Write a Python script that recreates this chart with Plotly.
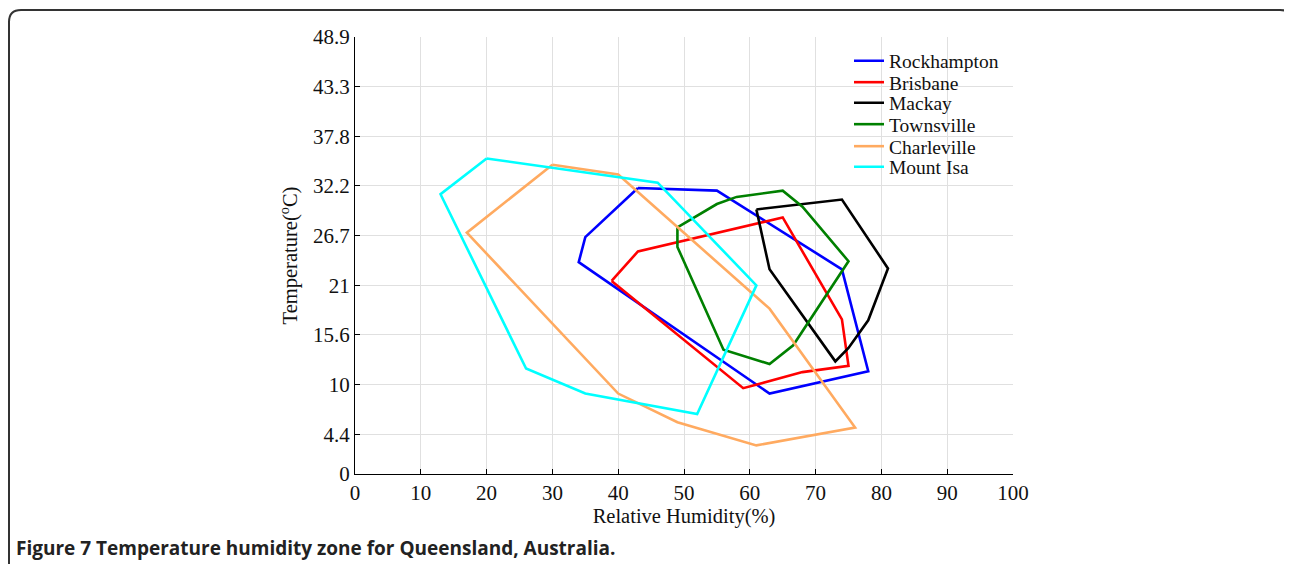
import plotly.graph_objects as go

# ---- data (Relative Humidity %, Temperature degC), polygons closed ----
names = ["Rockhampton", "Brisbane", "Mackay", "Townsville", "Charleville", "Mount Isa"]
colors = ["#0000ff", "#ff0000", "#000000", "#008000", "#ffaa60", "#00ffff"]

rock_h = [43, 55, 74, 78, 63, 34, 35, 43]
rock_t = [32.0, 31.7, 22.9, 11.5, 9.0, 23.7, 26.5, 32.0]

bris_h = [39, 43, 65, 74, 75, 68, 59, 39]
bris_t = [21.6, 24.9, 28.7, 17.3, 12.1, 11.4, 9.6, 21.6]

mack_h = [61, 74, 81, 78, 75, 73, 63, 61]
mack_t = [29.6, 30.7, 23.0, 17.2, 14.1, 12.6, 22.9, 29.6]

town_h = [49, 55, 58, 65, 68, 75, 66.6, 63, 56, 49, 49]
town_t = [27.6, 30.2, 31.0, 31.7, 29.9, 23.8, 14.4, 12.3, 13.9, 25.4, 27.6]

char_h = [30, 40, 63, 76, 61, 49, 40, 17, 30]
char_t = [34.6, 33.5, 18.5, 5.2, 3.2, 5.8, 9.0, 27.0, 34.6]

isa_h = [20, 46, 61, 52, 35, 26, 13, 20]
isa_t = [35.3, 32.6, 21.1, 6.7, 9.0, 11.8, 31.3, 35.3]

series_h = [rock_h, bris_h, mack_h, town_h, char_h, isa_h]
series_t = [rock_t, bris_t, mack_t, town_t, char_t, isa_t]

x_ticks = [0, 10, 20, 30, 40, 50, 60, 70, 80, 90, 100]
y_tick_f = [32, 40, 50, 60, 70, 80, 90, 100, 110, 120]  # Fahrenheit positions
y_tick_labels = ["0", "4.4", "10", "15.6", "21", "26.7", "32.2", "37.8", "43.3", "48.9"]
y_ticks = [(f - 32) * 5 / 9 for f in y_tick_f]

# page body has an 8px margin: work in reference pixels, shift by OFF
OFF = 8
W, H = 1292 - OFF, 564 - OFF
L, R, T, B = 355 - OFF, 1013 - OFF, 37 - OFF, 474 - OFF


def px(xp):
    return (xp - OFF - L) / (R - L)


def py(yp):
    return (B - (yp - OFF)) / (B - T)


serif = "Liberation Serif"
legend_y = [61, 82.5, 103, 124.5, 146.5, 167]

fig = go.Figure()
legend_layout = {}
for i, (n, c, hx, ty) in enumerate(zip(names, colors, series_h, series_t)):
    key = "legend" if i == 0 else f"legend{i + 1}"
    fig.add_trace(go.Scatter(x=hx, y=ty, mode="lines", name=n, legend=key,
                             line=dict(color=c, width=2.6)))
    legend_layout[key] = dict(x=px(849), y=py(legend_y[i]), xanchor="left", yanchor="middle",
                              bgcolor="rgba(0,0,0,0)", borderwidth=0,
                              font=dict(family=serif, size=19.5, color="#111"),
                              itemwidth=30)

fig.update_layout(
    width=W, height=H,
    margin=dict(l=L, r=W - R, t=T, b=H - B, pad=0),
    paper_bgcolor="white", plot_bgcolor="white",
    font=dict(family=serif, size=20, color="#111"),
    showlegend=True,
    xaxis=dict(range=[0, 100], tickvals=x_ticks, ticks="inside", ticklen=5,
               tickcolor="#000", showline=True, linecolor="#000", linewidth=1.2,
               showgrid=True, gridcolor="#e0e0e0", gridwidth=1, zeroline=False,
               mirror=False, tickfont=dict(family=serif, size=21),
               title=dict(text="Relative Humidity(%)", font=dict(family=serif, size=20.5),
                          standoff=1)),
    yaxis=dict(range=[0, y_ticks[-1]], tickvals=y_ticks, ticktext=y_tick_labels,
               ticks="inside", ticklen=5, tickcolor="#000", showline=True,
               linecolor="#000", linewidth=1.2, showgrid=True, gridcolor="#e0e0e0",
               gridwidth=1, zeroline=False, mirror=False,
               tickfont=dict(family=serif, size=21),
               title=dict(text="Temperature(<sup>o</sup>C)", font=dict(family=serif, size=20.5),
                          standoff=9)),
    **legend_layout,
)

# rounded card border
r = 12
path = (f"M {px(9)} {py(620)} L {px(9)} {py(10 + r)} Q {px(9)} {py(10)} {px(9 + r)} {py(10)} "
        f"L {px(1292 - r)} {py(10)} Q {px(1292)} {py(10)} {px(1292)} {py(10 + r)} L {px(1292)} {py(620)}")
fig.add_shape(type="path", xref="paper", yref="paper", path=path,
              line=dict(color="#333", width=2), layer="above")

fig.add_annotation(xref="paper", yref="paper", x=px(14), y=py(548), xanchor="left",
                   yanchor="middle", showarrow=False,
                   text="<b>Figure 7 Temperature humidity zone for Queensland, Australia.</b>",
                   font=dict(family="Open Sans", size=19, color="#222"))

fig.write_html("out.html")
